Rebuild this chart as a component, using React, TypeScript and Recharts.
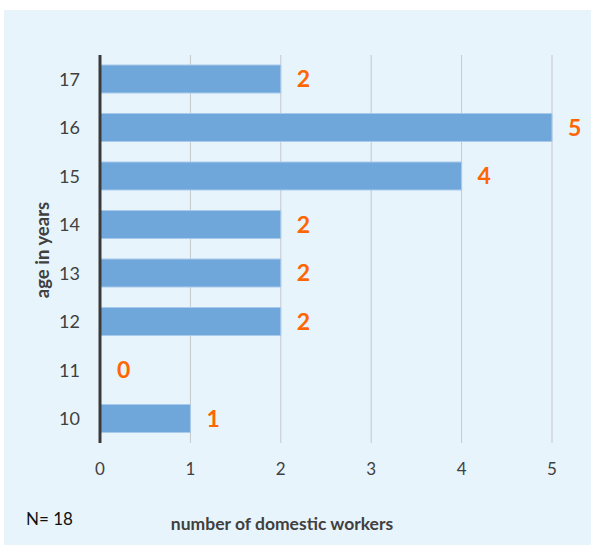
import React from 'react';
import { BarChart, Bar, XAxis, YAxis, CartesianGrid, LabelList, Cell } from 'recharts';

const ages = ['17', '16', '15', '14', '13', '12', '11', '10'];
const workers = [2, 5, 4, 2, 2, 2, 0, 1];
const xTicks = [0, 1, 2, 3, 4, 5];

const data = ages.map((age, i) => ({ age, workers: workers[i] }));

const font = 'Lato, "Open Sans", sans-serif';

const App: React.FC = () => {
  return (
    <div style={{ position: 'absolute', left: 0, top: 0, width: 593, height: 547, background: '#fff', fontFamily: font }}>
      <div style={{ position: 'absolute', left: 4, top: 10, width: 587, height: 535, background: '#e8f4fc' }} />
      <div style={{ position: 'absolute', left: 0, top: 0 }}>
        <BarChart
          width={593}
          height={547}
          data={data}
          layout="vertical"
          margin={{ top: 55, right: 41, bottom: 74, left: 0 }}
        >
          <CartesianGrid horizontal={false} stroke="#c4c8cc" />
          <XAxis
            type="number"
            domain={[0, 5]}
            ticks={xTicks}
            axisLine={false}
            tickLine={false}
            height={30}
            tickSize={10}
            tickMargin={10}
            tick={{ fill: '#404040', fontSize: 17, fontFamily: font }}
          />
          <YAxis
            type="category"
            dataKey="age"
            width={100}
            axisLine={{ stroke: '#3a3a3a', strokeWidth: 3 }}
            tickLine={false}
            tickSize={10}
            tickMargin={10}
            tick={{ fill: '#404040', fontSize: 18, fontFamily: font }}
          />
          <Bar dataKey="workers" fill="#6fa7db" stroke="#a9caea" strokeWidth={1} barSize={28} minPointSize={1} isAnimationActive={false}>
            {data.map((d) => (
              <Cell key={d.age} fill={d.workers === 0 ? 'none' : '#6fa7db'} stroke={d.workers === 0 ? 'none' : '#a9caea'} />
            ))}
            <LabelList dataKey="workers" position="right" offset={16} fill="#ff6600" fontSize={23} fontWeight="bold" fontFamily={font} />
          </Bar>
        </BarChart>
      </div>
      <div style={{ position: 'absolute', left: 42, top: 250, transform: 'translate(-50%, -50%) rotate(-90deg)', whiteSpace: 'nowrap', fontSize: 18.5, fontWeight: 'bold', color: '#404040' }}>
        age in years
      </div>
      <div style={{ position: 'absolute', left: 282, top: 523, transform: 'translate(-50%, -50%)', whiteSpace: 'nowrap', fontSize: 17.5, fontWeight: 'bold', color: '#404040' }}>
        number of domestic workers
      </div>
      <div style={{ position: 'absolute', left: 26, top: 518, transform: 'translateY(-50%)', whiteSpace: 'nowrap', fontSize: 17, color: '#111' }}>
        N= 18
      </div>
    </div>
  );
};

export default App;
